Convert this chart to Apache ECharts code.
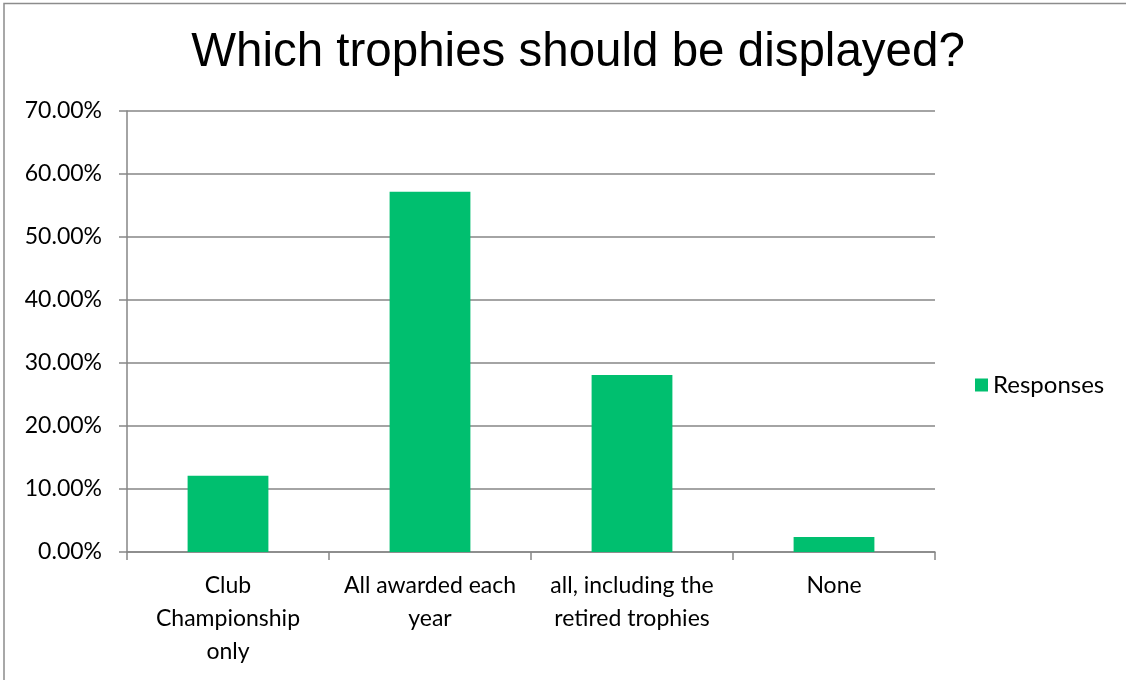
<!DOCTYPE html>
<html>
<head>
<meta charset="utf-8">
<script src="https://cdn.jsdelivr.net/npm/echarts@6/dist/echarts.min.js"></script>
<style>
html,body{margin:0;padding:0;background:#fff;}
#chart{width:1126px;height:680px;}
</style>
</head>
<body>
<div id="chart"></div>
<script>
const titleText = 'Which trophies should be displayed?';
const categories = ['Club\nChampionship\nonly', 'All awarded each\nyear', 'all, including the\nretired trophies', 'None'];
const seriesName = 'Responses';
const responses = [12.1, 57.2, 28.1, 2.4];
const yTicks = [0, 10, 20, 30, 40, 50, 60, 70];

const chart = echarts.init(document.getElementById('chart'), null, {renderer: 'canvas'});
const axisGrey = '#868686';
const labelFont = 'Lato';
chart.setOption({
  animation: false,
  backgroundColor: '#fff',
  title: {
    text: titleText,
    left: 573,
    textAlign: 'center',
    top: 24,
    textStyle: {fontFamily: 'Liberation Sans', fontSize: 47.5, fontWeight: 'normal', color: '#000'}
  },
  graphic: [{
    type: 'polyline',
    shape: {points: [[4, 700], [4, 3.5], [1130, 3.5]]},
    style: {stroke: '#8c8c8c', lineWidth: 1.5, fill: null}
  }],
  legend: {
    data: [seriesName],
    orient: 'vertical',
    left: 970,
    top: 368,
    itemWidth: 13,
    itemHeight: 13,
    itemGap: 8,
    icon: 'rect',
    textStyle: {fontFamily: labelFont, fontSize: 24, color: '#000'}
  },
  grid: {left: 127, right: 191, top: 111, bottom: 128},
  xAxis: {
    type: 'category',
    data: categories,
    axisLine: {lineStyle: {color: axisGrey, width: 1.5}},
    axisTick: {show: true, length: 8, lineStyle: {color: axisGrey, width: 1.5}},
    axisLabel: {fontFamily: labelFont, fontSize: 23, color: '#000', margin: 17, lineHeight: 33, interval: 0}
  },
  yAxis: {
    type: 'value',
    min: yTicks[0],
    max: yTicks[yTicks.length - 1],
    interval: 10,
    axisLine: {show: true, lineStyle: {color: axisGrey, width: 1.5}},
    axisTick: {show: true, length: 8, lineStyle: {color: axisGrey, width: 1.5}},
    splitLine: {lineStyle: {color: axisGrey, width: 1.5}},
    axisLabel: {fontFamily: labelFont, fontSize: 23, color: '#000', margin: 25,
      formatter: v => v.toFixed(2) + '%'}
  },
  series: [{
    name: seriesName,
    type: 'bar',
    data: responses,
    barWidth: '40%',
    itemStyle: {color: '#00BF6F'}
  }]
});
</script>
</body>
</html>
